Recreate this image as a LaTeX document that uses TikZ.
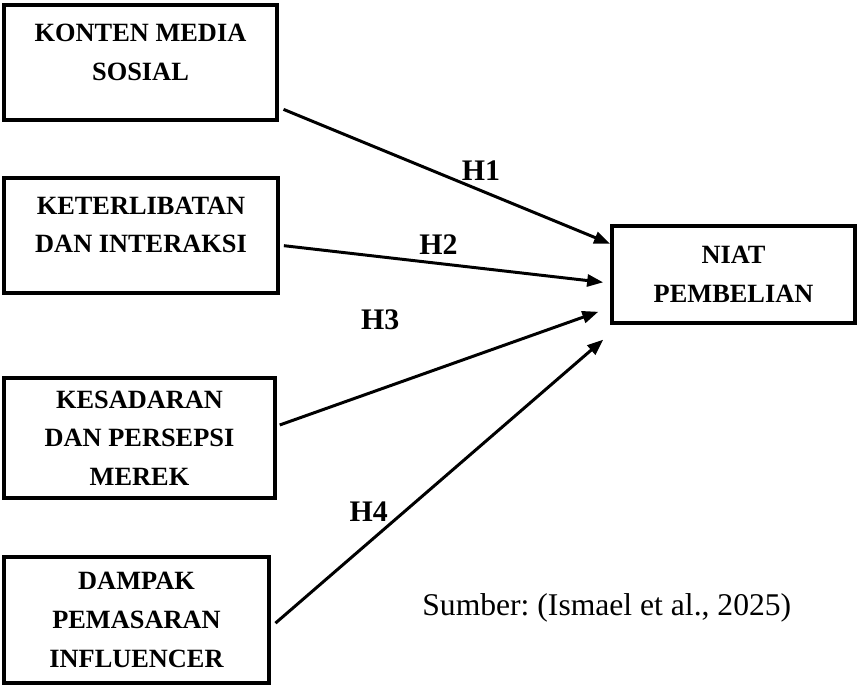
\documentclass[tikz,border=0pt]{standalone}
\usepackage{fontspec}
\setmainfont{Liberation Serif}
\usepackage{tikz}
\usetikzlibrary{arrows.meta, calc, positioning}

\begin{document}
\begin{tikzpicture}[x=0.02cm, y=-0.02cm,
        varbox/.style={draw, line width=2.2pt, align=center, inner sep=0pt,
            font=\fontsize{15}{22}\selectfont\bfseries},
        hyp/.style={line width=1.7pt, -{Triangle[length=0.32cm,width=0.24cm]}},
        hlabel/.style={font=\fontsize{17}{20}\selectfont\bfseries, inner sep=0pt}]
                \useasboundingbox (0,0) rectangle (857,684);
                \node[varbox, minimum width=5.46cm, minimum height=2.3cm] (konten) at (140.5,62.5)
                    {KONTEN MEDIA\\SOSIAL\\[-10pt]};
                \node[varbox, minimum width=5.48cm, minimum height=2.3cm] (keterlibatan) at (141,235.5)
                    {KETERLIBATAN\\DAN INTERAKSI\\[-10pt]};
                \node[varbox, minimum width=5.42cm, minimum height=2.4cm] (kesadaran) at (139.5,438)
                    {KESADARAN\\DAN PERSEPSI\\MEREK};
                \node[varbox, minimum width=5.3cm, minimum height=2.52cm] (dampak) at (136.5,620)
                    {DAMPAK\\PEMASARAN\\INFLUENCER};
                \node[varbox, minimum width=4.86cm, minimum height=1.94cm] (niat) at (733.5,274.5)
                    {NIAT\\PEMBELIAN};
                \draw[hyp, shorten <=0.1cm] (konten.-18) -- (niat.166)
                    node[hlabel, pos=0.61, yshift=0.4cm] (h1) {H1};
                \draw[hyp, shorten <=0.08cm, shorten >=0.14cm] (keterlibatan.-4.8) -- (niat.-176.5)
                    node[hlabel, pos=0.48, yshift=0.38cm] (h2) {H2};
                \draw[hyp, shorten <=0.06cm, shorten >=0.25cm] (kesadaran.5.5) -- (niat.195.9)
                    node[hlabel, pos=0.31, yshift=1.4cm] (h3) {H3};
                \draw[hyp, shorten <=0.12cm, shorten >=0.45cm] (dampak.-3.5) -- (niat.204.5)
                    node[hlabel, pos=0.28, yshift=0.62cm] (h4) {H4};
                \node[anchor=base west, inner sep=0pt, font=\fontsize{18}{22}\selectfont\frenchspacing] (sumber)
                    at (422,615) {Sumber: (Ismael et al., 2025)};
            \end{tikzpicture}
\end{document}
